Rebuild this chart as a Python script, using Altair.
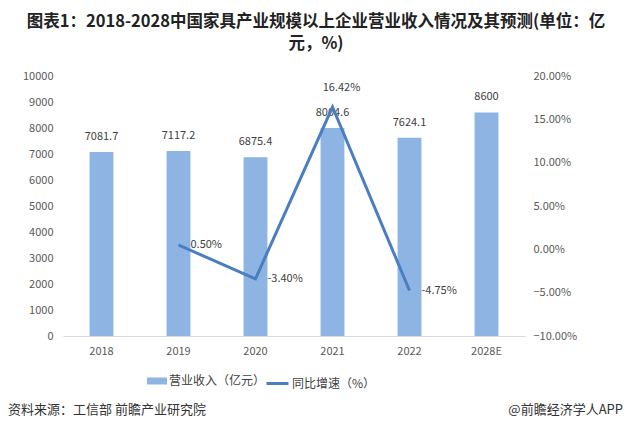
import altair as alt
import pandas as pd

years = ["2018", "2019", "2020", "2021", "2022", "2028E"]
revenue = [7081.7, 7117.2, 6875.4, 8004.6, 7624.1, 8600]
revenue_labels = ["7081.7", "7117.2", "6875.4", "8004.6", "7624.1", "8600"]
growth_years = ["2019", "2020", "2021", "2022"]
growth = [0.0050, -0.0340, 0.1642, -0.0475]
growth_labels = ["0.50%", "-3.40%", "16.42%", "-4.75%"]
growth_pos = ["right", "right", "top", "right"]
left_ticks = [0, 1000, 2000, 3000, 4000, 5000, 6000, 7000, 8000, 9000, 10000]
right_ticks = [-0.10, -0.05, 0, 0.05, 0.10, 0.15, 0.20]

bar_df = pd.DataFrame({"year": years, "revenue": revenue, "label": revenue_labels,
                       "s": ["营业收入（亿元）"] * len(years)})
line_df = pd.DataFrame({"year": growth_years, "growth": growth,
                        "label": growth_labels, "pos": growth_pos,
                        "s": ["同比增速（%）"] * len(growth_years)})
foot_df = pd.DataFrame({"a": [1]})

FONT = "Noto Sans CJK SC"
BAR = "#8EB4E3"
LINE = "#4A7EC0"

xenc = alt.X("year:N", sort=years, title=None,
             scale=alt.Scale(domain=years, paddingInner=0.69, paddingOuter=0.345),
             axis=alt.Axis(labelAngle=0, ticks=False, domainColor="#d9d9d9",
                           labelColor="#595959", labelFontSize=11, labelPadding=9,
                           labelFont=FONT))

yrev = alt.Y("revenue:Q", title=None,
             scale=alt.Scale(domain=[0, 10000], nice=False),
             axis=alt.Axis(values=left_ticks, format="d", labelOverlap=False, grid=False,
                           ticks=False, domain=False, labelColor="#595959", labelFontSize=11,
                           labelPadding=10, labelFont=FONT))

yg = alt.Y("growth:Q", title=None,
           scale=alt.Scale(domain=[-0.10, 0.20], nice=False),
           axis=alt.Axis(orient="right", format=".2%", values=right_ticks, labelOverlap=False,
                         grid=False, ticks=False, domain=False, labelColor="#595959",
                         labelFontSize=11, labelPadding=8, labelFont=FONT))

bars = alt.Chart(bar_df).mark_bar(color=BAR).encode(
    x=xenc, y=yrev,
    color=alt.Color("s:N", scale=alt.Scale(domain=["营业收入（亿元）"], range=[BAR]),
                    legend=alt.Legend(title=None, orient="none", legendX=84, legendY=295,
                                      symbolType="M-1,-0.35H1V0.35H-1Z", symbolSize=400,
                                      symbolStrokeWidth=0, labelFontSize=12,
                                      labelColor="#404040", labelFont=FONT, labelOffset=2)),
)
bar_text = alt.Chart(bar_df).mark_text(dy=-10, fontSize=11, color="#404040", font=FONT,
                                       baseline="bottom").encode(
    x=xenc, y=yrev, text="label:N")

left = alt.layer(bars, bar_text)

line = alt.Chart(line_df).mark_line(strokeWidth=3).encode(
    x=xenc, y=yg,
    color=alt.Color("s:N", scale=alt.Scale(domain=["同比增速（%）"], range=[LINE]),
                    legend=alt.Legend(title=None, orient="none", legendX=202, legendY=295,
                                      symbolType="stroke", symbolSize=484,
                                      symbolStrokeWidth=3, labelFontSize=12,
                                      labelColor="#404040", labelFont=FONT, labelOffset=2)),
)
lt_right = alt.Chart(line_df).transform_filter("datum.pos == 'right'").mark_text(
    align="left", dx=12, fontSize=11, color="#404040", font=FONT, baseline="middle").encode(
    x=xenc, y=yg, text="label:N")
lt_top = alt.Chart(line_df).transform_filter("datum.pos == 'top'").mark_text(
    align="center", dx=9, dy=-19, fontSize=11, color="#404040", font=FONT, baseline="middle").encode(
    x=xenc, y=yg, text="label:N")

right = alt.layer(line, lt_right, lt_top)

foot_l = alt.Chart(foot_df).mark_text(align="left", baseline="middle", fontSize=13,
                                      color="#333333", font=FONT).encode(
    x=alt.value(-55), y=alt.value(334), text=alt.value("资料来源：工信部 前瞻产业研究院"))
foot_r = alt.Chart(foot_df).mark_text(align="right", baseline="middle", fontSize=13,
                                      color="#333333", font=FONT).encode(
    x=alt.value(560), y=alt.value(334), text=alt.value("@前瞻经济学人APP"))

chart = alt.layer(left, right, foot_l, foot_r).resolve_scale(
    y="independent", color="independent"
).properties(
    width=462, height=260,
    autosize=alt.AutoSizeParams(type="none"),
    padding={"left": 55, "top": 68, "right": 98, "bottom": 89},
    title=alt.TitleParams(
        ["图表1：2018-2028中国家具产业规模以上企业营业收入情况及其预测(单位：亿", "元，%)"],
        anchor="middle", fontSize=16.5, fontWeight="bold", font=FONT, color="#222222",
        dx=22, offset=18, lineHeight=22),
).configure_view(stroke=None)

chart.save("out.html", embed_options={"renderer": "svg", "actions": False})
